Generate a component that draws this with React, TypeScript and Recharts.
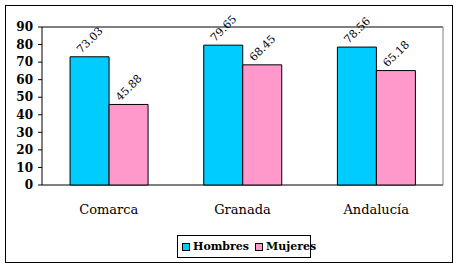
import React from 'react';
import { BarChart, Bar, XAxis, YAxis, CartesianGrid, ReferenceLine, LabelList } from 'recharts';

const categories = ['Comarca', 'Granada', 'Andalucía'];
const hombres = [73.03, 79.65, 78.56];
const mujeres = [45.88, 68.45, 65.18];
const yTicks = [0, 10, 20, 30, 40, 50, 60, 70, 80, 90];
const boundaryTicks = [0, 1, 2, 3];
const seriesNames = ['Hombres', 'Mujeres'];
const seriesKeys = ['hombres', 'mujeres'];
const seriesColors = ['#00CCFF', '#FF99CC'];

const data = categories.map((c, i) => ({ name: c, hombres: hombres[i], mujeres: mujeres[i] }));

const FONT = 'DejaVu Serif';

const RotLabel = (props: any) => {
  const { x, y, width, value } = props;
  const cx = Number(x) + Number(width) / 2;
  const cy = Number(y) - 17;
  return (
    <g transform={`translate(${cx}, ${cy}) rotate(-45)`}>
      <text x={0} y={4} textAnchor="middle" fontSize={11} fontFamily={FONT} fill="#000">
        {Number(value).toFixed(2)}
      </text>
    </g>
  );
};

export default function App() {
  return (
    <div style={{ position: 'absolute', left: 0, top: 0, width: 459, height: 268, background: '#fff' }}>
      <div
        style={{
          position: 'absolute',
          left: 5,
          top: 5,
          width: 446,
          height: 256,
          border: '1px solid #000',
          boxSizing: 'content-box',
        }}
      />
      <div style={{ position: 'absolute', left: 0, top: 0 }}>
        <BarChart
          width={459}
          height={268}
          data={data}
          margin={{ top: 27, right: 0, bottom: 0, left: 0 }}
          barCategoryGap="21%"
          barGap={0}
        >
          <CartesianGrid vertical={false} stroke="#000" strokeOpacity={1} />
          <XAxis
            xAxisId="grid"
            type="number"
            dataKey={() => 0}
            domain={[0, 3]}
            ticks={boundaryTicks}
            tick={false}
            tickSize={5}
            height={0}
            axisLine={{ stroke: '#000' }}
            tickLine={{ stroke: '#000' }}
            allowDataOverflow
          />
          <XAxis
            xAxisId="cat"
            dataKey="name"
            height={83}
            axisLine={false}
            tickLine={false}
            tickSize={8}
            tickMargin={12}
            tick={{ fontSize: 13, fontFamily: FONT, fill: '#000' }}
            interval={0}
          />
          <YAxis
            yAxisId="left"
            width={42}
            domain={[0, 90]}
            ticks={yTicks}
            interval={0}
            tickSize={4}
            tickMargin={5}
            axisLine={{ stroke: '#000' }}
            tickLine={{ stroke: '#000' }}
            tick={{ fontSize: 12, fontWeight: 'bold', fontFamily: FONT, fill: '#000' }}
          />
          <YAxis
            yAxisId="right"
            orientation="right"
            width={16}
            domain={[0, 90]}
            tick={false}
            tickLine={false}
            axisLine={{ stroke: '#808080' }}
          />
          <ReferenceLine yAxisId="left" xAxisId="cat" y={90} stroke="#808080" />
          {seriesKeys.map((k, i) => (
            <Bar
              key={k}
              xAxisId="cat"
              yAxisId="left"
              dataKey={k}
              name={seriesNames[i]}
              fill={seriesColors[i]}
              stroke="#000"
              strokeWidth={1}
              isAnimationActive={false}
            >
              <LabelList dataKey={k} content={RotLabel} />
            </Bar>
          ))}
        </BarChart>
      </div>
      <div
        style={{
          position: 'absolute',
          left: 177,
          top: 235,
          width: 134,
          height: 23,
          border: '1px solid #000',
          boxSizing: 'border-box',
          display: 'flex',
          alignItems: 'center',
          paddingLeft: 4,
          fontFamily: FONT,
          fontSize: 11,
          fontWeight: 'bold',
          background: '#fff',
          whiteSpace: 'nowrap',
        }}
      >
        {seriesNames.map((n, i) => (
          <div key={n} style={{ display: 'flex', alignItems: 'center', marginRight: i === 0 ? 6 : 0 }}>
            <span
              style={{
                display: 'inline-block',
                width: 6,
                height: 6,
                background: seriesColors[i],
                border: '1px solid #000',
                marginRight: 3,
              }}
            />
            <span>{n}</span>
          </div>
        ))}
      </div>
    </div>
  );
}
